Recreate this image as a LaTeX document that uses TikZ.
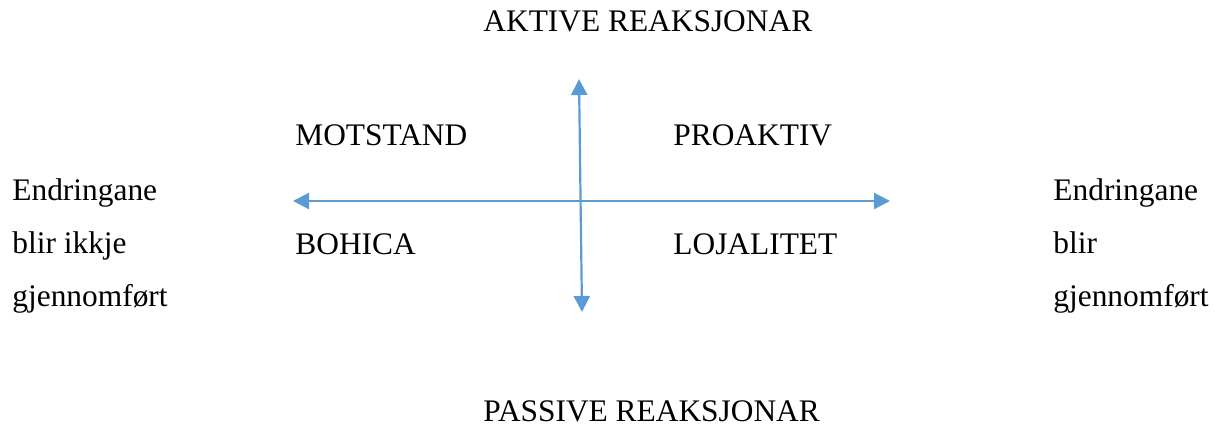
\documentclass[tikz,border=0pt]{standalone}
\usepackage{fontspec}
\setmainfont{Liberation Serif}
\usetikzlibrary{arrows.meta}
\definecolor{axisblue}{HTML}{5B9BD5}
\begin{document}
\begin{tikzpicture}[
    x=0.5pt, y=-0.5pt,
    label/.style={anchor=base west, inner sep=0pt, font=\fontsize{15.7}{26.7}\selectfont},
    side/.style={label, align=left},
    axis/.style={{Triangle[length=8pt,width=8pt]}-{Triangle[length=8pt,width=8pt]}, line width=1.1pt, draw=axisblue, fill=axisblue}
]
    \useasboundingbox (0,0) rectangle (1218,426);

    \node[label] (aktive) at (483,32) {AKTIVE REAKSJONAR};
    \node[label] (passive) at (483,421) {PASSIVE REAKSJONAR};
    \node[label] (motstand) at (295,146) {MOTSTAND};
    \node[label] (proaktiv) at (673,146) {PROAKTIV};
    \node[label] (bohica) at (295,255) {BOHICA};
    \node[label] (lojalitet) at (673,255) {LOJALITET};
    % base of a multi-line node is the last line
    \node[side] (ikkje) at (12,307) {Endringane\\blir ikkje\\gjennomført};
    \node[side] (gjort) at (1053,307) {Endringane\\blir\\gjennomført};

    \coordinate (west) at (293,201);
    \coordinate (east) at (890,201);
    \coordinate (top) at (579,79);
    \coordinate (bottom) at (582,312);

    \draw[axis] (west) -- (east);
    \draw[axis] (top) -- (bottom);
\end{tikzpicture}
\end{document}
